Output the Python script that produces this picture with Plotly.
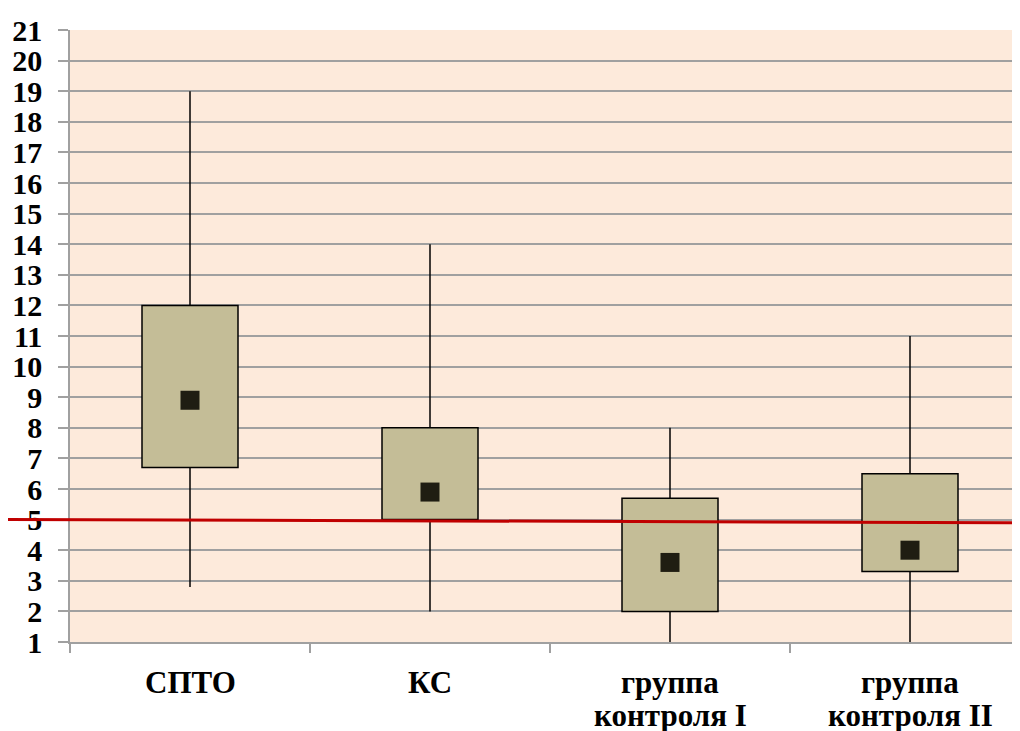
import plotly.graph_objects as go

categories = ["СПТО", "КС", "группа контроля I", "группа контроля II"]
label_line1 = ["СПТО", "КС", "группа", "группа"]
label_line2 = ["", "", "контроля I", "контроля II"]
whisker_low = [2.8, 2.0, 1.0, 1.0]
box_low = [6.7, 5.0, 2.0, 3.3]
box_high = [12.0, 8.0, 5.7, 6.5]
whisker_high = [19.0, 14.0, 8.0, 11.0]
centre = [8.9, 5.9, 3.6, 4.0]
ref_line = [5.0, 4.9]  # left / right end of the red reference line
y_ticks = list(range(1, 22))

SERIF = "Liberation Serif, Tinos, Times New Roman, Times, DejaVu Serif, serif"

fig = go.Figure()

# whiskers
wx, wy = [], []
for c, lo, q1, q3, hi in zip(categories, whisker_low, box_low, box_high, whisker_high):
    wx += [c, c, None, c, c, None]
    wy += [lo, q1, None, q3, hi, None]
fig.add_trace(go.Scatter(x=wx, y=wy, mode="lines",
                         line=dict(color="black", width=1.5),
                         hoverinfo="skip", showlegend=False))

# boxes
fig.add_trace(go.Bar(x=categories,
                     y=[h - l for h, l in zip(box_high, box_low)],
                     base=box_low, width=0.4,
                     marker=dict(color="#C4BD97", line=dict(color="black", width=1.5)),
                     showlegend=False))

# centre markers
fig.add_trace(go.Scatter(x=categories, y=centre, mode="markers",
                         marker=dict(symbol="square", size=19, color="#1F1D12"),
                         showlegend=False))

fig.add_shape(type="line", xref="paper", yref="y",
              x0=-70 / 950, x1=1, y0=ref_line[0], y1=ref_line[1],
              line=dict(color="#C00000", width=3), layer="above")

# category labels (two lines, tight spacing like the original)
for c, l1, l2 in zip(categories, label_line1, label_line2):
    for txt, shift in ((l1, -40), (l2, -73)):
        if txt:
            fig.add_annotation(x=c, xref="x", y=0, yref="paper", yshift=shift,
                               text="<b>%s</b>" % txt, showarrow=False,
                               xanchor="center", yanchor="middle",
                               font=dict(size=31, family=SERIF, color="black"))

fig.update_layout(
    width=1012, height=723,
    margin=dict(l=62, r=0, t=22, b=89, autoexpand=False),
    paper_bgcolor="white",
    plot_bgcolor="#FDEADB",
    font=dict(family=SERIF, color="black"),
    xaxis=dict(
        type="category",
        categoryarray=categories,
        range=[-0.5, -0.5 + 950 / 240],
        automargin=False,
        showgrid=False,
        showline=True, linecolor="#A0A0A0", linewidth=1.5,
        ticks="outside", tickson="boundaries", ticklen=9,
        tickcolor="#A0A0A0", tickwidth=1.5,
        showticklabels=False,
        fixedrange=True,
    ),
    yaxis=dict(
        range=[1, 21],
        automargin=False,
        tickvals=y_ticks,
        ticktext=["<b>%d</b>" % v for v in y_ticks],
        showgrid=True, gridcolor="#A0A0A0", gridwidth=1.5,
        showline=True, linecolor="#A0A0A0", linewidth=1.5,
        ticks="outside", ticklen=10, tickcolor="#A0A0A0", tickwidth=1.5,
        ticklabelstandoff=10,
        tickfont=dict(size=30, family=SERIF, color="black"),
        zeroline=False,
        fixedrange=True,
    ),
)

fig.write_html("out.html")
